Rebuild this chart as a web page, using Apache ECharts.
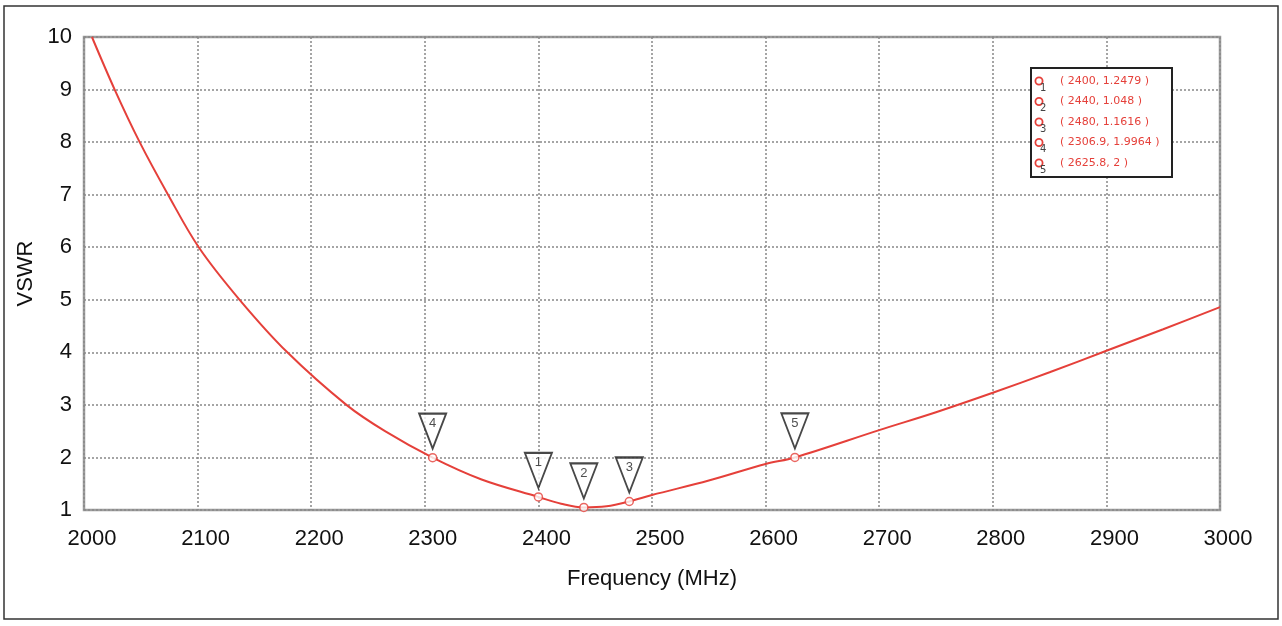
<!DOCTYPE html>
<html>
<head>
<meta charset="utf-8">
<title>VSWR</title>
<script src="https://cdn.jsdelivr.net/npm/echarts@6/dist/echarts.min.js"></script>
<style>
    html, body {
        margin: 0;
        padding: 0;
        background: #fff;
    }
    #chart {
        width: 1282px;
        height: 626px;
    }
</style>
</head>
<body>
<div id="chart"></div>
<script>
// 曲线 (MHz, VSWR)
const freq = [2007, 2027, 2049, 2074, 2101, 2137, 2179, 2231, 2265, 2306.9, 2350, 2400, 2420, 2440, 2460, 2480, 2500, 2550, 2600, 2625.8, 2700, 2750, 2800, 2850, 2900, 2950, 3000];
const vswr = [10, 9, 8, 7, 6, 5, 4, 3, 2.5, 1.9964, 1.58, 1.2479, 1.12, 1.048, 1.07, 1.1616, 1.285, 1.56, 1.875, 2, 2.52, 2.86, 3.23, 3.62, 4.03, 4.44, 4.86];

// markers 1..5
const markerNames = ['1', '2', '3', '4', '5'];
const markerFreq = [2400, 2440, 2480, 2306.9, 2625.8];
const markerVswr = [1.2479, 1.048, 1.1616, 1.9964, 2];

const xTicks = { min: 2000, max: 3000, step: 100 };
const yTicks = { min: 1, max: 10, step: 1 };

const red = '#e5403a';

const chart = echarts.init(document.getElementById('chart'));

const lineData = freq.map((f, i) => [f, vswr[i]]);
const markerData = markerFreq.map((f, i) => ({ name: markerNames[i], value: [f, markerVswr[i]] }));

// legend box on the top right
const legendItems = [{
    type: 'rect',
    shape: { x: 1031, y: 68, width: 141, height: 109 },
    style: { fill: '#fff', stroke: '#222', lineWidth: 2 },
    z: 10
}];
markerFreq.forEach((f, i) => {
    const y = 81 + i * 20.5;
    legendItems.push({
        type: 'circle',
        shape: { cx: 1039, cy: y, r: 3.6 },
        style: { fill: '#fff', stroke: red, lineWidth: 1.8 },
        z: 11
    });
    legendItems.push({
        type: 'text',
        x: 1040,
        y: y + 2,
        style: { text: markerNames[i], fill: '#444', font: '10px "DejaVu Sans"' },
        z: 11
    });
    legendItems.push({
        type: 'text',
        x: 1060,
        y: y,
        style: {
            text: '( ' + f + ', ' + markerVswr[i] + ' )',
            fill: red,
            font: '11px "DejaVu Sans"',
            verticalAlign: 'middle'
        },
        z: 11
    });
});

const option = {
    animation: false,
    backgroundColor: '#fff',
    textStyle: {
        fontFamily: '"Liberation Sans", Arial, sans-serif'
    },
    grid: {
        left: 84,
        right: 62,
        top: 37,
        bottom: 116,
        show: true,
        borderColor: '#9c9c9c',
        borderWidth: 2.5
    },
    xAxis: {
        type: 'value',
        min: xTicks.min,
        max: xTicks.max,
        interval: xTicks.step,
        name: 'Frequency (MHz)',
        nameLocation: 'middle',
        nameGap: 58,
        nameTextStyle: { fontSize: 22, color: '#111' },
        axisLine: { show: false },
        axisTick: { show: false },
        axisLabel: {
            fontSize: 22,
            color: '#111',
            margin: 18,
            padding: [0, 0, 0, 16],
            formatter: (v) => String(v)
        },
        splitLine: {
            show: true,
            lineStyle: { color: '#888', width: 1.5, type: [2, 2] }
        }
    },
    yAxis: {
        type: 'value',
        min: yTicks.min,
        max: yTicks.max,
        interval: yTicks.step,
        name: 'VSWR',
        nameLocation: 'middle',
        nameGap: 37,
        nameTextStyle: { fontSize: 22, color: '#111' },
        axisLine: { show: false },
        axisTick: { show: false },
        axisLabel: {
            fontSize: 22,
            color: '#111',
            margin: 12
        },
        splitLine: {
            show: true,
            lineStyle: { color: '#888', width: 1.5, type: [2, 2] }
        }
    },
    series: [
        {
            name: 'VSWR',
            type: 'line',
            data: lineData,
            smooth: 0.35,
            showSymbol: false,
            lineStyle: { color: red, width: 2 },
            z: 2
        },
        {
            name: 'flags',
            type: 'scatter',
            data: markerData,
            symbol: 'path://M0,0 L28,0 L14,36 Z',
            symbolSize: [27, 35],
            symbolOffset: [0, -26.5],
            itemStyle: {
                color: '#fff',
                borderColor: '#1a1a1a',
                borderWidth: 2
            },
            label: {
                show: true,
                position: 'inside',
                formatter: (p) => p.name,
                offset: [0, -8],
                fontSize: 13,
                color: '#222'
            },
            z: 3
        },
        {
            name: 'markers',
            type: 'scatter',
            data: markerData,
            symbol: 'circle',
            symbolSize: 8,
            itemStyle: {
                color: '#fff',
                borderColor: red,
                borderWidth: 1.5
            },
            z: 4
        }
    ],
    graphic: [
        {
            type: 'rect',
            shape: { x: 4, y: 6, width: 1274, height: 613 },
            style: { fill: 'none', stroke: '#333', lineWidth: 1.5 },
            silent: true
        },
        {
            type: 'group',
            children: legendItems
        }
    ]
};

chart.setOption(option);
</script>
</body>
</html>
